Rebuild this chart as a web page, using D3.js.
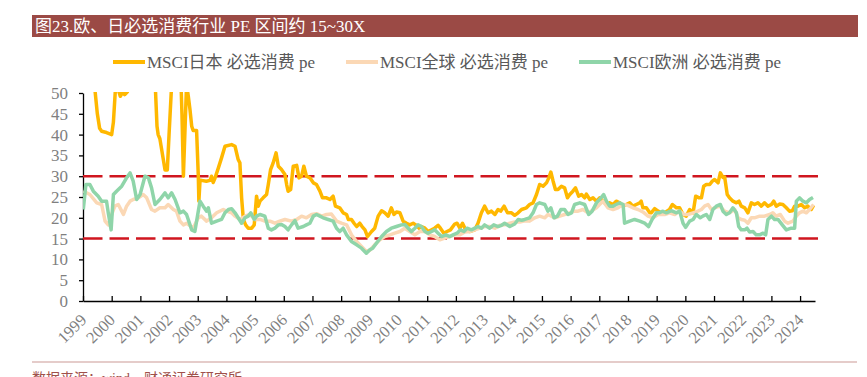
<!DOCTYPE html>
<html>
<head>
<meta charset="utf-8">
<script src="https://cdn.jsdelivr.net/npm/d3@7"></script>
<style>
  body { margin: 0; background: #fff; }
  svg { display: block; font-family: "Liberation Serif", "Times New Roman", "Noto Sans CJK SC", serif; }
</style>
</head>
<body>
<div id="chart"></div>
<script>
// 数据: [年份(小数), PE]
const japanPE = [
  [1999.0, 66], [1999.25, 60], [1999.42, 50.5], [1999.5, 45], [1999.58, 41.5], [1999.65, 40.8], [1999.82, 40.5],
  [2000.0, 40], [2000.06, 43], [2000.14, 52], [2000.22, 51], [2000.3, 49.2], [2000.38, 50.2], [2000.45, 49.6],
  [2000.55, 50.3], [2000.65, 57], [2000.9, 63], [2001.2, 58], [2001.5, 55], [2001.58, 42], [2001.62, 40],
  [2001.68, 39], [2001.8, 34], [2001.86, 31.5], [2001.94, 31.5], [2002.0, 40], [2002.09, 52], [2002.2, 60],
  [2002.4, 56], [2002.45, 45], [2002.5, 30], [2002.55, 40], [2002.61, 52], [2002.67, 49.3], [2002.73, 46],
  [2002.79, 42], [2002.84, 41], [2002.96, 41], [2003.02, 30], [2003.04, 24], [2003.08, 29], [2003.13, 29],
  [2003.3, 28.8], [2003.43, 29], [2003.48, 30], [2003.54, 28.5], [2003.6, 29.5], [2003.72, 32], [2003.83, 34.4],
  [2003.95, 37.2], [2004.18, 37.6], [2004.3, 37.2], [2004.41, 34], [2004.47, 33.2], [2004.53, 24.8],
  [2004.59, 19.6], [2004.67, 18.3], [2004.76, 17.5], [2004.88, 17.5], [2004.97, 18.3], [2005.05, 25.2],
  [2005.11, 22.8], [2005.17, 24], [2005.28, 24.8], [2005.4, 25.6], [2005.46, 28], [2005.54, 31.6],
  [2005.63, 33.2], [2005.73, 35.6], [2005.81, 32.4], [2005.92, 31.6], [2006.04, 30.4], [2006.1, 28],
  [2006.15, 26.4], [2006.24, 26.8], [2006.33, 32.4], [2006.45, 32.6], [2006.53, 29.6], [2006.62, 30],
  [2006.7, 32.4], [2006.79, 30], [2006.91, 29.6], [2007.03, 28.4], [2007.14, 28], [2007.26, 26.4],
  [2007.35, 24.8], [2007.49, 24.8], [2007.61, 24.4], [2007.72, 25.2], [2007.8, 22.8], [2007.95, 22.4],
  [2008.07, 21.2], [2008.19, 20.8], [2008.25, 19.6], [2008.36, 19.6], [2008.45, 18.7], [2008.54, 17.9],
  [2008.65, 18.7], [2008.73, 17.9], [2008.83, 17.1], [2008.92, 15.5], [2009.06, 16.7], [2009.17, 17.5],
  [2009.29, 20.4], [2009.41, 21.7], [2009.52, 21.2], [2009.64, 20.4], [2009.75, 22.4], [2009.84, 20.8],
  [2009.93, 21.4], [2010.05, 21.2], [2010.16, 19.2], [2010.28, 18.7], [2010.39, 18.3], [2010.51, 18.7],
  [2010.6, 18.3], [2010.72, 17.5], [2010.8, 17.9], [2010.92, 17.5], [2011.03, 16.7], [2011.15, 17.1],
  [2011.26, 17.5], [2011.38, 18.2], [2011.46, 17.5], [2011.58, 16.3], [2011.69, 16.7], [2011.81, 17.1],
  [2011.96, 18.5], [2012.04, 18.7], [2012.14, 17.5], [2012.23, 18.7], [2012.34, 17.1], [2012.48, 16.7],
  [2012.66, 17.1], [2012.77, 18.7], [2012.89, 21.2], [2013.0, 22.8], [2013.12, 21.2], [2013.24, 21.6],
  [2013.36, 20.8], [2013.47, 22], [2013.56, 21.6], [2013.68, 22.8], [2013.8, 21.2], [2013.94, 21.2],
  [2014.05, 20.6], [2014.17, 21.2], [2014.29, 22], [2014.46, 22.4], [2014.57, 23.2], [2014.69, 23.6],
  [2014.81, 25.6], [2014.92, 28], [2015.04, 27.6], [2015.16, 28.4], [2015.24, 29.6], [2015.31, 31],
  [2015.39, 28.8], [2015.47, 26.8], [2015.56, 26.8], [2015.68, 27.6], [2015.79, 27.2], [2015.89, 24.8],
  [2015.97, 25.6], [2016.08, 26.4], [2016.17, 27.2], [2016.28, 25.2], [2016.38, 25.6], [2016.49, 24.8],
  [2016.55, 25.7], [2016.67, 24.4], [2016.78, 24.8], [2016.9, 24], [2017.01, 24.8], [2017.13, 24],
  [2017.25, 23.2], [2017.36, 23.6], [2017.48, 23.2], [2017.59, 24], [2017.71, 23.6], [2017.83, 22.8],
  [2017.94, 23.2], [2018.06, 23.6], [2018.17, 22.8], [2018.29, 23.2], [2018.41, 23.6], [2018.46, 24],
  [2018.52, 22.4], [2018.64, 22.4], [2018.76, 21.2], [2018.81, 21.2], [2018.93, 22.2], [2019.05, 21.6],
  [2019.16, 21.2], [2019.28, 21.2], [2019.45, 22], [2019.55, 23.2], [2019.69, 22.4], [2019.8, 22.4],
  [2019.92, 20.8], [2020.03, 20.4], [2020.15, 22], [2020.27, 21.2], [2020.36, 25.2], [2020.48, 24.8],
  [2020.56, 24.8], [2020.64, 27.6], [2020.73, 28], [2020.85, 28], [2020.94, 28.8], [2021.02, 29.2],
  [2021.14, 28.4], [2021.22, 30.8], [2021.31, 29.7], [2021.37, 29.8], [2021.46, 25.6], [2021.54, 24.8],
  [2021.66, 24], [2021.78, 23.6], [2021.87, 24], [2021.95, 22.8], [2022.07, 22.4], [2022.18, 21.2],
  [2022.3, 23.6], [2022.41, 23.2], [2022.53, 23.6], [2022.65, 22.8], [2022.76, 23.6], [2022.88, 22.8],
  [2023.0, 23.2], [2023.08, 24], [2023.17, 22.8], [2023.29, 23.3], [2023.4, 23.2], [2023.52, 22.4],
  [2023.63, 21.6], [2023.73, 21.7], [2023.81, 22.8], [2023.92, 22.8], [2024.04, 23.2], [2024.16, 22.4],
  [2024.27, 22.8], [2024.39, 22], [2024.47, 23]
];

const globalPE = [
  [1999.01, 26.4], [1999.24, 25.6], [1999.48, 23.6], [1999.65, 23.2], [1999.77, 19.2], [1999.88, 18.3],
  [2000.0, 20.8], [2000.11, 22.8], [2000.23, 23.2], [2000.35, 21.6], [2000.41, 20.8], [2000.52, 22.8],
  [2000.64, 24], [2000.75, 24.4], [2000.93, 24.8], [2001.1, 25.6], [2001.22, 24.8], [2001.39, 22],
  [2001.51, 21.6], [2001.68, 22.4], [2001.86, 22.4], [2001.97, 23.2], [2002.15, 22], [2002.26, 21.6],
  [2002.38, 19.2], [2002.5, 18.3], [2002.61, 18.7], [2002.84, 17.5], [2003.02, 20], [2003.13, 20.4],
  [2003.31, 19.2], [2003.48, 20], [2003.66, 21.2], [2003.89, 22], [2004.0, 21.6], [2004.18, 21.2],
  [2004.3, 20.4], [2004.47, 19.6], [2004.65, 20.4], [2004.82, 20.8], [2005.0, 19.6], [2005.17, 19.6],
  [2005.34, 19.2], [2005.52, 19.2], [2005.69, 18.7], [2005.86, 19.2], [2006.04, 19.6], [2006.27, 19.2],
  [2006.45, 19.6], [2006.62, 20.4], [2006.79, 20], [2006.97, 20.8], [2007.14, 21], [2007.32, 20.4],
  [2007.49, 20.8], [2007.66, 20.9], [2007.84, 19.2], [2008.01, 18.7], [2008.19, 18.3], [2008.36, 15.9],
  [2008.54, 14.3], [2008.71, 13.1], [2008.88, 11.9], [2009.0, 12.2], [2009.17, 13.5], [2009.35, 14.7],
  [2009.52, 15.5], [2009.7, 15.9], [2009.87, 16.3], [2010.05, 16.7], [2010.22, 17.5], [2010.39, 16.7],
  [2010.57, 15.9], [2010.74, 16.7], [2010.92, 16.7], [2011.09, 15.9], [2011.26, 15.5], [2011.44, 14.7],
  [2011.61, 15.1], [2011.79, 15.5], [2011.96, 15.9], [2012.14, 15.9], [2012.31, 16.6], [2012.48, 16.7],
  [2012.66, 17.1], [2012.84, 17.5], [2013.0, 17.9], [2013.18, 17.9], [2013.36, 17.5], [2013.53, 18.2],
  [2013.7, 18.3], [2013.88, 18.7], [2014.05, 19.0], [2014.23, 19.0], [2014.4, 19.3], [2014.57, 19.2],
  [2014.75, 20], [2014.92, 20.4], [2015.1, 20], [2015.21, 20.8], [2015.33, 20.4], [2015.45, 20],
  [2015.62, 20.4], [2015.79, 20.8], [2015.97, 21.2], [2016.14, 21.6], [2016.26, 21.6], [2016.43, 22],
  [2016.61, 21.2], [2016.72, 21.6], [2016.9, 22.4], [2017.01, 23.2], [2017.13, 24], [2017.3, 22.4],
  [2017.48, 22], [2017.65, 22.4], [2017.83, 23.2], [2018.0, 23], [2018.17, 22.4], [2018.35, 22],
  [2018.52, 21.4], [2018.7, 20.4], [2018.87, 20], [2019.05, 20.8], [2019.28, 20.8], [2019.45, 21.2],
  [2019.63, 20.8], [2019.8, 21.6], [2019.94, 20.8], [2020.09, 20.8], [2020.27, 21.2], [2020.44, 21.6],
  [2020.56, 22], [2020.67, 22.8], [2020.79, 23.2], [2020.91, 22], [2021.02, 22.4], [2021.2, 22.8],
  [2021.37, 21.6], [2021.54, 21.2], [2021.72, 22], [2021.84, 20], [2021.95, 19.6], [2022.07, 19.4],
  [2022.18, 18.7], [2022.3, 20], [2022.41, 20], [2022.59, 20.4], [2022.76, 20.4], [2022.94, 20.8],
  [2023.05, 21.2], [2023.17, 20.4], [2023.31, 20.8], [2023.46, 19.2], [2023.58, 18.7], [2023.75, 19.2],
  [2023.87, 20.4], [2023.98, 21.2], [2024.1, 21.6], [2024.22, 21.2], [2024.33, 22], [2024.47, 23.2]
];

const europePE = [
  [1999.01, 22], [1999.1, 28], [1999.24, 28], [1999.36, 26.4], [1999.53, 25.2], [1999.65, 24],
  [1999.82, 24], [1999.88, 21.2], [1999.98, 17.1], [2000.06, 25.6], [2000.17, 26.4], [2000.35, 27.6],
  [2000.52, 29.6], [2000.64, 30.8], [2000.75, 28.8], [2000.87, 24.4], [2000.99, 25.6], [2001.16, 30],
  [2001.28, 29.6], [2001.39, 27.2], [2001.51, 23.2], [2001.68, 24.4], [2001.86, 26], [2001.97, 24.8],
  [2002.09, 26], [2002.21, 24.4], [2002.38, 21.2], [2002.5, 21.6], [2002.61, 20.8], [2002.79, 17.1],
  [2002.9, 16.7], [2003.02, 21.6], [2003.08, 24], [2003.19, 22.8], [2003.31, 21.6], [2003.37, 22.4],
  [2003.48, 18.7], [2003.66, 19.2], [2003.83, 19.6], [2003.95, 21.2], [2004.07, 22], [2004.18, 22.2],
  [2004.3, 21.2], [2004.41, 20], [2004.53, 18.7], [2004.65, 20], [2004.76, 20.4], [2004.85, 21.2],
  [2004.97, 19.6], [2005.05, 20.4], [2005.17, 20.8], [2005.34, 20.4], [2005.46, 17.5], [2005.57, 17.1],
  [2005.69, 17.5], [2005.81, 18.3], [2005.92, 18.4], [2006.04, 17.9], [2006.15, 17.1], [2006.27, 18.3],
  [2006.39, 19.3], [2006.5, 17.5], [2006.68, 17.9], [2006.79, 18.3], [2006.91, 18.7], [2007.03, 20.4],
  [2007.14, 20.8], [2007.26, 20.4], [2007.37, 20], [2007.55, 19.6], [2007.72, 19.2], [2007.84, 17.5],
  [2007.95, 16.7], [2008.07, 17.5], [2008.19, 15.9], [2008.36, 14.3], [2008.54, 13.5], [2008.71, 12.7],
  [2008.88, 11.5], [2009.0, 12.3], [2009.1, 12.7], [2009.23, 13.9], [2009.41, 15.5], [2009.58, 16.7],
  [2009.75, 17.5], [2009.93, 17.9], [2010.1, 18.3], [2010.22, 18.4], [2010.34, 17.5], [2010.45, 16.7],
  [2010.57, 17.5], [2010.68, 18.3], [2010.8, 17.9], [2010.92, 16.7], [2011.03, 16.3], [2011.15, 16.7],
  [2011.26, 17.1], [2011.38, 16.3], [2011.5, 15.5], [2011.65, 15.9], [2011.79, 15.5], [2011.9, 15.9],
  [2012.04, 16.3], [2012.16, 17.1], [2012.28, 16.7], [2012.39, 17.5], [2012.54, 17.1], [2012.66, 17.5],
  [2012.77, 17.9], [2012.89, 17.5], [2013.0, 18.3], [2013.18, 17.5], [2013.32, 18.3], [2013.47, 17.9],
  [2013.59, 18.2], [2013.7, 18.7], [2013.88, 17.9], [2014.05, 18.5], [2014.17, 19.6], [2014.29, 19.4],
  [2014.4, 19.6], [2014.57, 20], [2014.69, 21.2], [2014.81, 23.2], [2014.92, 23.6], [2015.1, 23.2],
  [2015.21, 21.6], [2015.31, 22.4], [2015.42, 20], [2015.54, 20.4], [2015.66, 22], [2015.79, 22],
  [2015.91, 20.8], [2016.03, 21.2], [2016.14, 23.2], [2016.32, 23.6], [2016.49, 23.2], [2016.63, 20.8],
  [2016.75, 21.6], [2016.9, 23.6], [2017.01, 24.4], [2017.15, 25.6], [2017.25, 24], [2017.36, 22.8],
  [2017.48, 22.8], [2017.59, 23.2], [2017.71, 23.6], [2017.83, 23.2], [2017.88, 18.7], [2018.06, 19.2],
  [2018.23, 19.6], [2018.41, 19.2], [2018.58, 18.7], [2018.72, 17.9], [2018.84, 19.6], [2018.99, 21.2],
  [2019.1, 21.2], [2019.2, 21.6], [2019.34, 21.2], [2019.51, 21.7], [2019.69, 21.2], [2019.8, 21.6],
  [2019.92, 18.7], [2020.01, 17.7], [2020.15, 19.2], [2020.27, 19.6], [2020.38, 20.8], [2020.52, 20],
  [2020.61, 20.4], [2020.73, 20.8], [2020.85, 19.6], [2020.96, 22], [2021.08, 22.8], [2021.22, 23.2],
  [2021.31, 21.6], [2021.43, 20.8], [2021.54, 21.2], [2021.66, 22.4], [2021.78, 21.2], [2021.86, 17.9],
  [2021.95, 17.1], [2022.07, 17.1], [2022.15, 17.5], [2022.24, 16.6], [2022.36, 16.7], [2022.47, 15.9],
  [2022.59, 15.9], [2022.71, 16.3], [2022.8, 15.9], [2022.88, 19.6], [2023.0, 20.4], [2023.11, 19.6],
  [2023.23, 19.6], [2023.38, 18.3], [2023.52, 17.1], [2023.69, 17.5], [2023.81, 17.5], [2023.87, 24],
  [2023.98, 24.8], [2024.1, 24], [2024.22, 23.6], [2024.33, 24.4], [2024.45, 24.9]
];

const seriesNames = ["MSCI日本 必选消费 pe", "MSCI全球 必选消费 pe", "MSCI欧洲 必选消费 pe"];
const seriesColors = ["#FFB800", "#FBD8B5", "#8FD5A9"];
const years = d3.range(1999, 2025);
const yTicks = d3.range(0, 55, 5);
const bandLines = [30, 15];

const W = 867, H = 377;
const svg = d3.select("#chart").append("svg").attr("width", W).attr("height", H);

// 标题栏
svg.append("rect").attr("x", 32).attr("y", 15).attr("width", 826).attr("height", 22).attr("fill", "#9B4A45");
svg.append("text").attr("x", 35).attr("y", 32).attr("fill", "#fff").style("font-size", "17px")
  .text("图23.欧、日必选消费行业 PE 区间约 15~30X");

const x = d3.scaleLinear().domain([1999, 2024.52]).range([83, 815]);
const y = d3.scaleLinear().domain([0, 50]).range([301, 93]);

// 图例
const legendX = [113, 346, 579];
seriesNames.forEach((name, i) => {
  svg.append("line").attr("x1", legendX[i]).attr("x2", legendX[i] + 32).attr("y1", 62).attr("y2", 62)
    .attr("stroke", seriesColors[i]).attr("stroke-width", 4);
  svg.append("text").attr("x", legendX[i] + 34).attr("y", 68).attr("fill", "#595959")
    .style("font-size", "17px").text(name);
});

// Y轴
const yAxis = svg.append("g").attr("transform", "translate(83,0)")
  .call(d3.axisLeft(y).tickValues(yTicks).tickSizeInner(4).tickSizeOuter(0).tickPadding(11));
yAxis.selectAll("text").attr("fill", "#7f7f7f").style("font-size", "17px")
  .style("font-family", "'Liberation Serif', serif");
yAxis.selectAll("path, line").attr("stroke", "#000").attr("stroke-width", 1.3);

// X轴
const xAxis = svg.append("g").attr("transform", "translate(0,301)")
  .call(d3.axisBottom(x).tickValues(years).tickFormat(d3.format("d")).tickSizeInner(-5).tickSizeOuter(0));
xAxis.selectAll("text")
  .attr("y", 0).attr("dy", 0)
  .attr("text-anchor", "end")
  .attr("transform", "translate(4,20) rotate(-45)")
  .attr("fill", "#7f7f7f").style("font-size", "16.5px")
  .style("font-family", "'Liberation Serif', serif");
xAxis.selectAll("path, line").attr("stroke", "#000").attr("stroke-width", 1.3);

// 裁剪区域
svg.append("clipPath").attr("id", "plotClip")
  .append("rect").attr("x", 83).attr("y", y(50) - 1).attr("width", 740).attr("height", y(0) - y(50) + 1);

const line = d3.line().x(d => x(d[0])).y(d => y(d[1]));
const plot = svg.append("g").attr("clip-path", "url(#plotClip)");

// 15 / 30 区间线
plot.selectAll(".band").data(bandLines).enter().append("line")
  .attr("x1", 83).attr("x2", 822)
  .attr("y1", d => y(d)).attr("y2", d => y(d))
  .attr("stroke", "#D0161F").attr("stroke-width", 2.5).attr("stroke-dasharray", "19.5,7");

[japanPE, globalPE, europePE].forEach((data, i) => {
  plot.append("path").datum(data).attr("d", line)
    .attr("fill", "none").attr("stroke", seriesColors[i]).attr("stroke-width", 3.5)
    .attr("stroke-linejoin", "round");
});

// 底部来源
svg.append("line").attr("x1", 32).attr("x2", 857).attr("y1", 362).attr("y2", 362)
  .attr("stroke", "#DDBBB8").attr("stroke-width", 1.5);
svg.append("text").attr("x", 32).attr("y", 383).attr("fill", "#A0504A").style("font-size", "14px")
  .text("数据来源：wind，财通证券研究所");
</script>
</body>
</html>
